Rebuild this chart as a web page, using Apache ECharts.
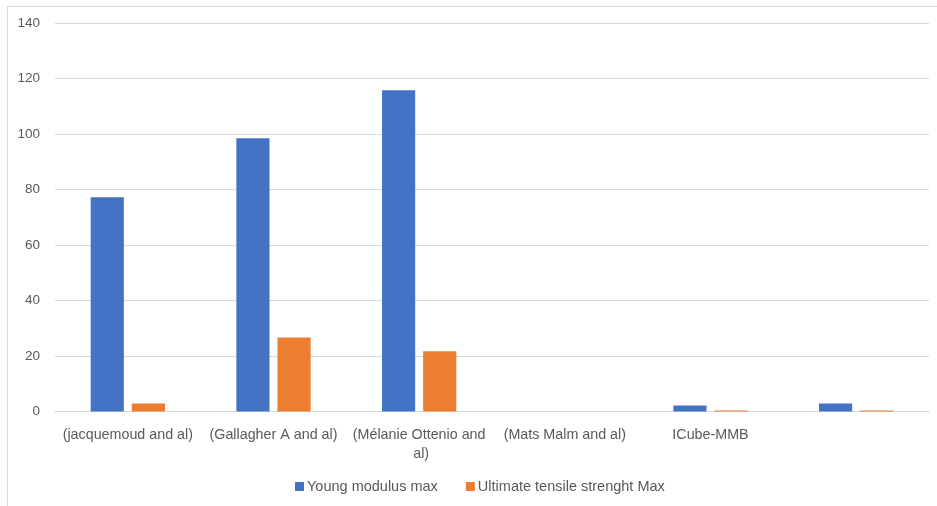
<!DOCTYPE html>
<html><head><meta charset="utf-8">
<script src="https://cdn.jsdelivr.net/npm/echarts@6/dist/echarts.min.js"></script>
<style>html,body{margin:0;padding:0;background:#fff}#c{width:937px;height:506px}</style>
</head><body><div id="c"></div>
<script>
const categories = ['(jacquemoud and al)', '(Gallagher A and al)', '(Mélanie Ottenio and al)', '(Mats Malm and al)', 'ICube-MMB', ''];
const youngModulusMax = [77.2, 98.5, 115.8, 0, 2.2, 2.9];
const ultimateTensileMax = [2.9, 26.7, 21.7, 0, 0.4, 0.4];
const seriesNames = ['Young modulus max', 'Ultimate tensile strenght Max'];
const yTicks = {min: 0, max: 140, interval: 20};

const font = 'Liberation Sans, Arial, sans-serif';
const chart = echarts.init(document.getElementById('c'), null, {renderer: 'canvas'});
chart.setOption({
  animation: false,
  textStyle: {fontFamily: font},
  graphic: [{type: 'rect', shape: {x: 7.5, y: 6.5, width: 940, height: 510}, style: {fill: 'none', stroke: '#d9d9d9', lineWidth: 1}, silent: true}],
  grid: {left: 55, right: 8, top: 23, bottom: 94.5},
  legend: {
    bottom: 7, left: 290, itemWidth: 9, itemHeight: 9, itemGap: 28,
    icon: 'rect',
    textStyle: {color: '#595959', fontSize: 14.5, fontFamily: font, padding: [0, 0, 0, -2]},
    data: seriesNames
  },
  xAxis: {
    type: 'category', data: categories,
    axisLine: {lineStyle: {color: '#d9d9d9', width: 1}},
    axisTick: {show: false},
    axisLabel: {color: '#595959', fontSize: 14.3, fontFamily: font, margin: 14, interval: 0, width: 142, overflow: 'break', lineHeight: 19}
  },
  yAxis: {
    type: 'value', min: yTicks.min, max: yTicks.max, interval: yTicks.interval,
    axisLine: {show: false}, axisTick: {show: false},
    splitLine: {lineStyle: {color: '#d9d9d9', width: 1}},
    axisLabel: {color: '#595959', fontSize: 13.5, fontFamily: font, margin: 15}
  },
  series: [
    {name: seriesNames[0], type: 'bar', data: youngModulusMax, itemStyle: {color: '#4472c4'}, barGap: '24%', barCategoryGap: '49%'},
    {name: seriesNames[1], type: 'bar', data: ultimateTensileMax, itemStyle: {color: '#ed7d31'}}
  ]
});
</script></body></html>
